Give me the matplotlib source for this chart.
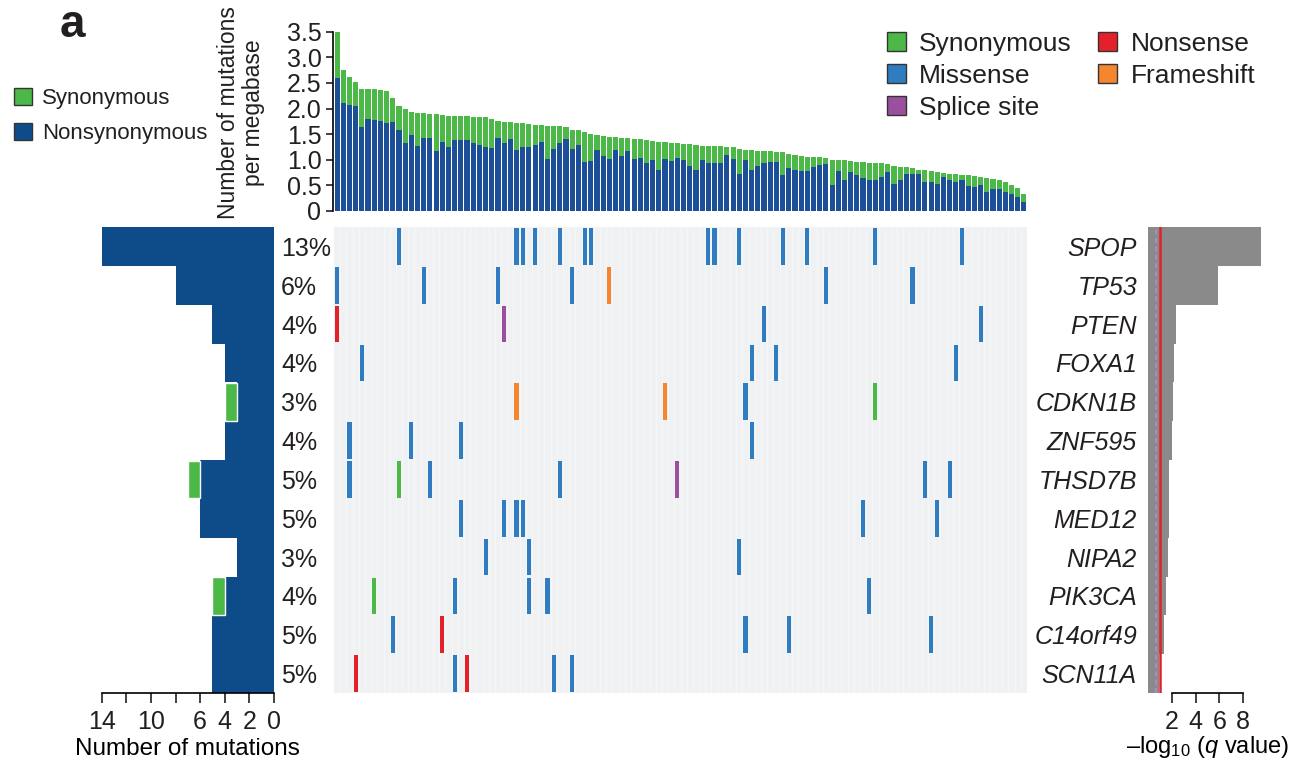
import numpy as np
import matplotlib
matplotlib.use('Agg')
import matplotlib.pyplot as plt
from matplotlib.patches import Patch

plt.rcParams['font.family'] = ['Liberation Sans', 'DejaVu Sans']
plt.rcParams['mathtext.fontset'] = 'custom'
plt.rcParams['mathtext.rm'] = 'Liberation Sans'
plt.rcParams['mathtext.it'] = 'Liberation Sans:italic'
plt.rcParams['text.color'] = '#231f20'
plt.rcParams['xtick.color'] = '#231f20'
plt.rcParams['ytick.color'] = '#231f20'

# genes (rows of the matrix)
genes = ['SPOP', 'TP53', 'PTEN', 'FOXA1', 'CDKN1B', 'ZNF595',
         'THSD7B', 'MED12', 'NIPA2', 'PIK3CA', 'C14orf49', 'SCN11A']
pct_labels = ['13%', '6%', '4%', '4%', '3%', '4%', '5%', '5%', '3%', '4%', '5%', '5%']
nonsyn_counts = [14, 8, 5, 4, 3, 4, 6, 6, 3, 4, 5, 5]
syn_counts = [0, 0, 0, 0, 1, 0, 1, 0, 0, 1, 0, 0]
neglog_q = [9.5, 5.9, 2.35, 2.2, 2.1, 2.0, 1.8, 1.8, 1.7, 1.5, 1.35, 0.95]

# mutation rate per sample (112 tumours), total and nonsynonymous part
rate_total = [3.50, 2.75, 2.62, 2.52, 2.39, 2.39, 2.38, 2.36, 2.35, 2.20,
              2.05, 2.00, 1.94, 1.92, 1.92, 1.90, 1.89, 1.88, 1.86, 1.85,
              1.85, 1.85, 1.84, 1.84, 1.83, 1.79, 1.76, 1.74, 1.73, 1.72,
              1.71, 1.69, 1.68, 1.68, 1.66, 1.66, 1.66, 1.64, 1.59, 1.58,
              1.55, 1.51, 1.48, 1.46, 1.45, 1.45, 1.43, 1.43, 1.41, 1.40,
              1.38, 1.37, 1.35, 1.35, 1.33, 1.33, 1.30, 1.30, 1.28, 1.26,
              1.26, 1.26, 1.26, 1.25, 1.24, 1.22, 1.20, 1.19, 1.17, 1.17,
              1.17, 1.15, 1.15, 1.12, 1.09, 1.07, 1.06, 1.06, 1.06, 1.04,
              1.00, 0.99, 0.99, 0.98, 0.96, 0.96, 0.94, 0.94, 0.93, 0.91,
              0.87, 0.86, 0.85, 0.83, 0.81, 0.80, 0.78, 0.76, 0.74, 0.73,
              0.72, 0.70, 0.70, 0.68, 0.66, 0.65, 0.63, 0.60, 0.57, 0.50,
              0.44, 0.34]
rate_nonsyn = [2.60, 2.11, 2.07, 2.05, 1.63, 1.79, 1.77, 1.75, 1.71, 1.74,
               1.58, 1.32, 1.49, 1.26, 1.43, 1.43, 1.17, 1.35, 1.24, 1.38,
               1.38, 1.38, 1.33, 1.28, 1.24, 1.23, 1.43, 1.33, 1.40, 1.19,
               1.25, 1.25, 1.28, 1.35, 1.02, 1.22, 1.32, 1.41, 1.22, 1.28,
               0.96, 0.98, 1.19, 1.07, 1.02, 1.20, 1.07, 1.17, 1.02, 1.04,
               0.94, 1.00, 0.80, 1.02, 0.98, 1.04, 0.99, 0.87, 0.80, 0.99,
               0.93, 0.93, 0.93, 1.09, 1.02, 0.73, 1.00, 0.81, 0.87, 0.94,
               0.96, 0.96, 0.70, 0.83, 0.80, 0.78, 0.78, 0.86, 0.89, 0.91,
               0.50, 0.78, 0.60, 0.76, 0.70, 0.65, 0.61, 0.61, 0.66, 0.76,
               0.53, 0.61, 0.72, 0.73, 0.72, 0.57, 0.57, 0.52, 0.66, 0.60,
               0.57, 0.61, 0.48, 0.47, 0.50, 0.37, 0.42, 0.42, 0.37, 0.34,
               0.27, 0.18]

# individual mutations: gene row, sample column, class
mut_gene = [0]*14 + [1]*7 + [2]*4 + [3]*4 + [4]*4 + [5]*4 + [6]*7 + [7]*6 + [8]*3 + [9]*5 + [10]*5 + [11]*5
mut_sample = [10, 29, 30, 32, 36, 40, 41, 60, 61, 65, 72, 76, 87, 101,
              0, 14, 26, 38, 44, 79, 93,
              0, 27, 69, 104,
              4, 67, 71, 100,
              29, 53, 66, 87,
              2, 12, 20, 67,
              2, 10, 15, 36, 55, 95, 99,
              20, 27, 29, 30, 85, 97,
              24, 31, 65,
              6, 19, 31, 34, 86,
              9, 17, 66, 73, 96,
              3, 19, 21, 35, 38]
mut_class = (['Missense']*14
             + ['Missense']*4 + ['Frameshift'] + ['Missense']*2
             + ['Nonsense', 'Splice site', 'Missense', 'Missense']
             + ['Missense']*4
             + ['Frameshift', 'Frameshift', 'Missense', 'Synonymous']
             + ['Missense']*4
             + ['Missense', 'Synonymous', 'Missense', 'Missense', 'Splice site', 'Missense', 'Missense']
             + ['Missense']*6
             + ['Missense']*3
             + ['Synonymous'] + ['Missense']*4
             + ['Missense', 'Nonsense', 'Missense', 'Missense', 'Missense']
             + ['Nonsense', 'Missense', 'Nonsense', 'Missense', 'Missense'])

class_names = ['Synonymous', 'Missense', 'Splice site', 'Nonsense', 'Frameshift']
class_colors = ['#4cb848', '#2f7dc0', '#9a4f9f', '#e4212a', '#f5852e']

navy = '#0e4c89'
top_blue = '#1d4f98'
green = '#4cb848'
grey_bar = '#8a8a8a'

n_samples = len(rate_total)
n_genes = len(genes)

W, H = 1304, 761
fig = plt.figure(figsize=(W / 100, H / 100), dpi=100)


def box(x0, y0, x1, y1):
    return [x0 / W, 1 - y1 / H, (x1 - x0) / W, (y1 - y0) / H]


ax_top = fig.add_axes(box(334, 31.7, 1027, 211))
ax_mat = fig.add_axes(box(334, 227, 1027, 693))
ax_left = fig.add_axes(box(101.7, 227, 274, 693))
ax_right = fig.add_axes(box(1148, 227, 1267, 693))

# --- top: mutation rate per sample
x = np.arange(n_samples)
syn_rate = np.array(rate_total) - np.array(rate_nonsyn)
ax_top.bar(x, rate_nonsyn, width=0.82, color=top_blue, linewidth=0)
ax_top.bar(x, syn_rate, bottom=rate_nonsyn, width=0.82, color=green, linewidth=0)
ax_top.set_xlim(-0.5, n_samples - 0.5)
ax_top.set_ylim(0, 3.5)
yt = np.arange(0, 3.51, 0.5)
ax_top.set_yticks(yt)
ax_top.set_yticklabels(['0'] + ['%.1f' % v for v in yt[1:]])
ax_top.set_xticks([])
for s in ['top', 'right', 'bottom']:
    ax_top.spines[s].set_visible(False)
ax_top.spines['left'].set_linewidth(1.2)
ax_top.spines['left'].set_position(('outward', 1))
ax_top.tick_params(axis='y', direction='out', length=5, width=1.2, labelsize=18, pad=3)
fig.text(241 / W, 1 - 113 / H, 'Number of mutations\nper megabase', rotation=90,
         ha='center', va='center', fontsize=16.5, linespacing=1.1)

# --- matrix of mutations
ax_mat.set_facecolor('#f0f1f3')
ax_mat.vlines(np.arange(0.5, n_samples - 1), -0.5, n_genes - 0.5, color='white', lw=0.5, alpha=0.55)
mg = np.array(mut_gene)
ms = np.array(mut_sample)
mc = np.array(mut_class)
for name, col in zip(class_names, class_colors):
    sel = mc == name
    ax_mat.bar(ms[sel], 0.94, bottom=mg[sel] - 0.47, width=0.66, color=col, linewidth=0)
ax_mat.set_xlim(-0.5, n_samples - 0.5)
ax_mat.set_ylim(n_genes - 0.5, -0.5)
ax_mat.set_xticks([])
ax_mat.set_yticks([])
for s in ax_mat.spines.values():
    s.set_visible(False)

# --- left: number of mutations per gene
y = np.arange(n_genes)
ax_left.barh(y, nonsyn_counts, height=1.0, color=navy, linewidth=0)
syn_arr = np.array(syn_counts)
has_syn = syn_arr > 0
ax_left.barh(y[has_syn], syn_arr[has_syn], left=np.array(nonsyn_counts)[has_syn], height=0.97,
             color=green, edgecolor='white', linewidth=1)
ax_left.set_xlim(14, 0)
ax_left.set_ylim(n_genes - 0.5, -0.5)
ax_left.set_xticks(np.arange(0, 15, 2))
ax_left.set_xticklabels(['0', '2', '4', '6', '', '10', '', '14'])
ax_left.yaxis.tick_right()
ax_left.set_yticks(y)
ax_left.set_yticklabels(pct_labels)
for s in ['top', 'right', 'left']:
    ax_left.spines[s].set_visible(False)
ax_left.spines['bottom'].set_linewidth(1.2)
ax_left.tick_params(axis='x', direction='out', length=7, width=1.2, labelsize=18, pad=5)
ax_left.tick_params(axis='y', length=0, labelsize=18, pad=5)
ax_left.set_xlabel('Number of mutations', fontsize=17.5, labelpad=3)

# --- right: significance
ax_right.barh(y, neglog_q, height=1.0, color=grey_bar, linewidth=0)
ax_right.axvline(0.7, color='#b48ad6', lw=1.2, ls=(0, (3, 2)))
ax_right.axvline(1.05, color='#e4212a', lw=1.8)
ax_right.set_xlim(0, 10)
ax_right.set_ylim(n_genes - 0.5, -0.5)
ax_right.set_xticks([2, 4, 6, 8])
ax_right.set_yticks(y)
ax_right.set_yticklabels(genes, style='italic')
for s in ['top', 'right', 'left']:
    ax_right.spines[s].set_visible(False)
ax_right.spines['bottom'].set_bounds(2, 8)
ax_right.spines['bottom'].set_linewidth(1.2)
ax_right.tick_params(axis='x', direction='out', length=7, width=1.2, labelsize=18, pad=5)
ax_right.tick_params(axis='y', length=0, labelsize=18, pad=8)
ax_right.set_xlabel('–log$_{10}$ ($q$ value)', fontsize=17, labelpad=0)

# --- legends
handles = [Patch(facecolor=c, edgecolor='#333333', linewidth=1) for c in class_colors]
fig.legend(handles, class_names, loc='upper left', bbox_to_anchor=(887 / W, 1 - 32 / H),
           ncol=2, frameon=False, fontsize=19, handlelength=0.72, handleheight=0.72,
           handletextpad=0.5, labelspacing=0.3, columnspacing=1.0, borderpad=0, borderaxespad=0)

handles2 = [Patch(facecolor=green, edgecolor='#333333', linewidth=1),
            Patch(facecolor=navy, edgecolor='#333333', linewidth=1)]
fig.legend(handles2, ['Synonymous', 'Nonsynonymous'], loc='upper left',
           bbox_to_anchor=(14 / W, 1 - 88 / H), frameon=False, fontsize=16,
           handlelength=0.8, handleheight=0.8, handletextpad=0.45, labelspacing=0.6,
           borderpad=0, borderaxespad=0)

fig.text(60 / W, 1 - 25 / H, 'a', fontsize=33, fontweight='bold', va='center', ha='left')

fig.savefig('out.png', dpi=100)
